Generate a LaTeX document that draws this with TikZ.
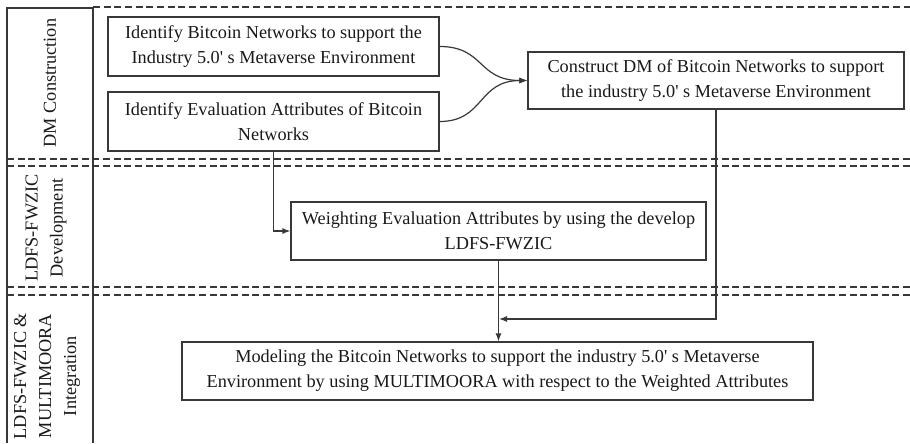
\documentclass[tikz,border=0pt]{standalone}
\usepackage{fontspec}
\setmainfont{Liberation Serif}[Ligatures=TeXOff]
\usetikzlibrary{arrows.meta}
\definecolor{linec}{gray}{0.22}
\definecolor{textc}{gray}{0.1}
\begin{document}
\begin{tikzpicture}[x=0.75pt,y=-0.75pt,
  every node/.style={text=textc,font=\fontsize{13.7}{18.75}\selectfont},
  box/.style={draw=linec,line width=0.9pt,align=center,inner sep=0pt},
  conn/.style={draw=linec,line width=0.9pt,-{Latex[length=6pt,width=4.5pt]}},
  plain/.style={draw=linec,line width=0.9pt},
  sep/.style={draw=linec,line width=0.8pt,dash pattern=on 5.2pt off 2.8pt},
  lane/.style={rotate=90,align=center}]
\useasboundingbox (0,0) rectangle (910,443);
% swimlane frame
\draw[plain] (7,443) -- (7,8) -- (93,8) -- (93,443);
\draw[sep] (93,7) -- (910,7);
\draw[sep] (7,159) -- (910,159);
\draw[sep] (7,166) -- (910,166);
\draw[sep] (7,287) -- (910,287);
\draw[sep] (7,295) -- (910,295);
% lane labels
\node[lane] (l1) at (50,83) {DM Construction};
\node[lane] (l2) at (46,228) {LDFS-FWZIC\\Development};
\node[lane] (l3) at (47,376) {LDFS-FWZIC \&\\MULTIMOORA\\Integration};
% boxes
\node[box,minimum width=331*0.75pt,minimum height=59*0.75pt] (b1) at (273.5,46.5)
  {Identify Bitcoin Networks to support the\\Industry 5.0' s Metaverse Environment};
\node[box,minimum width=331*0.75pt,minimum height=59*0.75pt] (b2) at (273.5,121.5)
  {Identify Evaluation Attributes of Bitcoin\\Networks};
\node[box,minimum width=376*0.75pt,minimum height=57*0.75pt] (b3) at (716,80.5)
  {Construct DM of Bitcoin Networks to support\\the industry 5.0' s Metaverse Environment};
\node[box,minimum width=415*0.75pt,minimum height=58*0.75pt] (b4) at (498.5,231)
  {Weighting Evaluation Attributes by using the develop\\LDFS-FWZIC};
\node[box,minimum width=631*0.75pt,minimum height=58*0.75pt] (b5) at (497.5,371)
  {Modeling the Bitcoin Networks to support the industry 5.0' s Metaverse\\Environment by using MULTIMOORA with respect to the Weighted Attributes};
% connectors
\draw[conn] (b1.east) .. controls +(45,0) and +(-50,0) .. (b3.west);
\draw[conn] (b2.east) .. controls +(45,0) and +(-50,0) .. (b3.west);
\draw[conn] (b2.south) |- (b4.west);
\draw[conn] (b4.south) -- (b4.south |- b5.north);
\coordinate (j) at (499,319);
\draw[conn] (b3.south) |- (j);
\end{tikzpicture}
\end{document}
